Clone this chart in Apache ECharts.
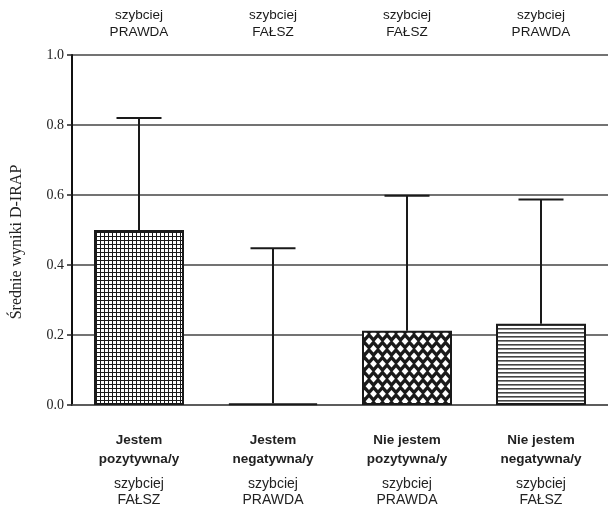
<!DOCTYPE html>
<html>
<head>
<meta charset="utf-8">
<script src="https://cdn.jsdelivr.net/npm/echarts@6/dist/echarts.min.js"></script>
<style>html,body{margin:0;padding:0;background:#fff;}#c{width:608px;height:507px;}</style>
</head>
<body>
<div id="c"></div>
<script>
// ---- data ----
const groupLabels = ['Jestem\npozytywna/y', 'Jestem\nnegatywna/y', 'Nie jestem\npozytywna/y', 'Nie jestem\nnegatywna/y'];
const bottomSpeed = ['FAŁSZ', 'PRAWDA', 'PRAWDA', 'FAŁSZ'];
const topSpeed = ['PRAWDA', 'FAŁSZ', 'FAŁSZ', 'PRAWDA'];
const speedWord = 'szybciej';
const means = [0.50, 0.005, 0.212, 0.232];
const upperErr = [0.82, 0.448, 0.598, 0.587];
const yAxisName = 'Średnie wyniki D-IRAP';

// ---- patterns ----
function mk(w, h, draw) { const c = document.createElement('canvas'); c.width = w; c.height = h; const g = c.getContext('2d'); draw(g, w, h); return c; }
const gridPat = mk(4, 4, (g, w, h) => {
  g.fillStyle = '#fff'; g.fillRect(0, 0, w, h);
  g.fillStyle = '#1a1a1a'; g.fillRect(0, 0, w, 1); g.fillRect(0, 0, 1, h);
});
const diamondPat = mk(9, 15, (g, w, h) => {
  g.fillStyle = '#1a1a1a'; g.fillRect(0, 0, w, h);
  g.fillStyle = '#fff';
  function dia(cx, cy) { g.beginPath(); g.moveTo(cx, cy - 3.7); g.lineTo(cx + 3.4, cy); g.lineTo(cx, cy + 3.7); g.lineTo(cx - 3.4, cy); g.closePath(); g.fill(); }
  dia(4.5, 3.75);
  dia(0, 11.25); dia(9, 11.25);
});
const hlinePat = mk(4, 4, (g, w, h) => {
  g.fillStyle = '#fff'; g.fillRect(0, 0, w, h);
  g.fillStyle = '#444'; g.fillRect(0, 0, w, 1.6);
});
const patterns = [gridPat, gridPat, diamondPat, hlinePat];

const chart = echarts.init(document.getElementById('c'), null, { renderer: 'canvas' });
const sans = 'Liberation Sans';
const serif = 'Liberation Serif';

chart.setOption({
  animation: false,
  backgroundColor: '#fff',
  grid: { left: 72, top: 55, width: 538, height: 353, containLabel: false },
  xAxis: [{
    type: 'category',
    data: groupLabels,
    position: 'bottom',
    axisLine: { lineStyle: { color: '#555', width: 1.5 } },
    axisTick: { alignWithLabel: true, length: 5, lineStyle: { color: '#222', width: 1.5 } },
    axisLabel: {
      interval: 0,
      margin: 26,
      formatter: function (v, i) {
        const parts = v.split('\n').map(s => '{b|' + s + '}');
        return parts.join('\n') + '\n{s| }\n{n|' + speedWord + '}\n{n|' + bottomSpeed[i] + '}';
      },
      rich: {
        b: { fontFamily: sans, fontWeight: 'bold', fontSize: 13.5, lineHeight: 19, color: '#222' },
        s: { fontSize: 4, lineHeight: 7 },
        n: { fontFamily: sans, fontSize: 14, lineHeight: 16, color: '#222' }
      }
    }
  }, {
    type: 'category',
    data: groupLabels,
    position: 'top',
    axisLine: { show: false },
    axisTick: { show: false },
    axisLabel: {
      interval: 0,
      margin: 14,
      fontFamily: sans,
      fontSize: 13.5,
      lineHeight: 17,
      color: '#1a1a1a',
      formatter: function (v, i) { return speedWord + '\n' + topSpeed[i]; }
    }
  }],
  yAxis: {
    type: 'value',
    min: 0, max: 1, interval: 0.2,
    name: yAxisName,
    nameLocation: 'middle',
    nameGap: 47,
    nameTextStyle: { fontFamily: serif, fontSize: 16, color: '#222', padding: [0, 24, 0, 0] },
    axisLine: { show: true, lineStyle: { color: '#111', width: 2 } },
    axisTick: { show: true, length: 5, lineStyle: { color: '#222', width: 1.5 } },
    axisLabel: { margin: 8, fontFamily: serif, fontSize: 14, color: '#222', formatter: v => v.toFixed(1) },
    splitLine: { show: true, lineStyle: { color: '#444', width: 1.5 } }
  },
  series: [{
    type: 'bar',
    xAxisIndex: 0,
    barWidth: 90,
    data: means.map((m, i) => ({
      value: m,
      itemStyle: { color: { image: patterns[i], repeat: 'repeat' }, borderColor: '#1a1a1a', borderWidth: 2 }
    })),
    z: 3
  }, {
    type: 'custom',
    xAxisIndex: 0,
    z: 4,
    renderItem: function (params, api) {
      const idx = api.value(0);
      const base = api.coord([idx, api.value(1)]);
      const top = api.coord([idx, api.value(2)]);
      const half = 22.5;
      return {
        type: 'group',
        children: [
          { type: 'line', shape: { x1: top[0], y1: base[1], x2: top[0], y2: top[1] }, style: { stroke: '#1a1a1a', lineWidth: 2 } },
          { type: 'line', shape: { x1: top[0] - half, y1: top[1], x2: top[0] + half, y2: top[1] }, style: { stroke: '#1a1a1a', lineWidth: 2 } }
        ]
      };
    },
    encode: { x: 0, y: [1, 2] },
    data: means.map((m, i) => [i, m, upperErr[i]])
  }]
});
</script>
</body>
</html>
